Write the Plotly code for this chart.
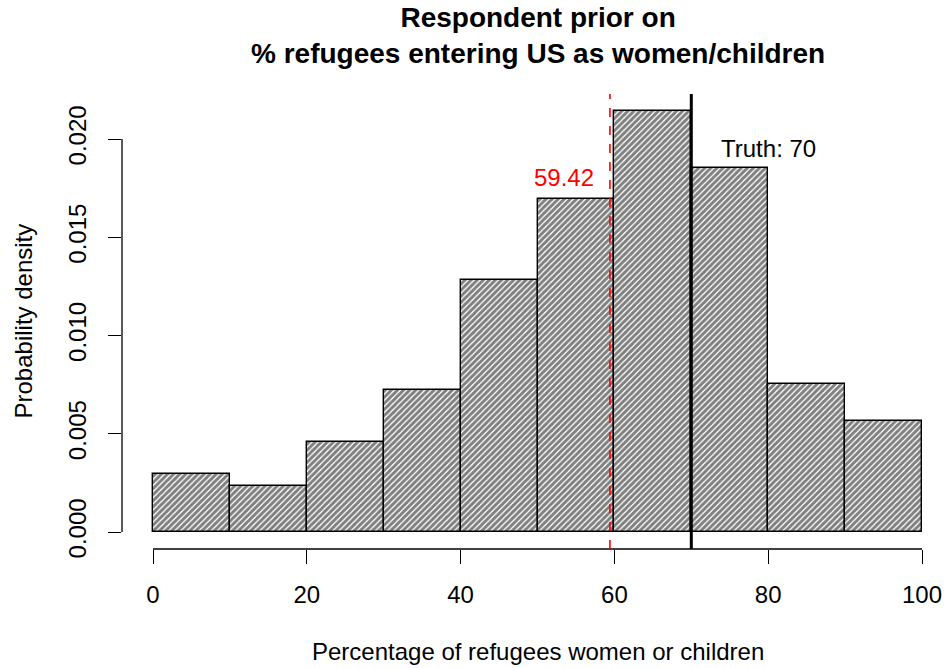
import plotly.graph_objects as go

# Histogram of respondents' priors (density per 10-point bin)
bin_left = [0, 10, 20, 30, 40, 50, 60, 70, 80, 90]
bin_width = 10
density = [0.00295, 0.00234, 0.00458, 0.00723, 0.01282,
           0.01695, 0.02142, 0.01852, 0.00753, 0.00565]

prior_mean = 59.42
truth = 70

x_ticks = [0, 20, 40, 60, 80, 100]
y_ticks = [0.000, 0.005, 0.010, 0.015, 0.020]
y_tick_text = ["0.000", "0.005", "0.010", "0.015", "0.020"]

FONT = "Liberation Sans, Arial, Helvetica, sans-serif"
FS = 24

mids = [b + bin_width / 2 for b in bin_left]

fig = go.Figure()
fig.add_trace(go.Bar(
    x=mids, y=density, width=[bin_width] * len(mids),
    marker=dict(
        color="white",
        line=dict(color="black", width=1.4),
        pattern=dict(shape="/", fgcolor="black", bgcolor="white",
                     size=4.3, solidity=0.68),
    ),
    hoverinfo="skip",
    showlegend=False,
))

shapes = [
    # detached axis lines, R style
    dict(type="line", xref="x", yref="paper", x0=min(x_ticks), x1=max(x_ticks),
         y0=0, y1=0, line=dict(color="black", width=1.3)),
    dict(type="line", xref="paper", yref="y", x0=0, x1=0,
         y0=min(y_ticks), y1=max(y_ticks), line=dict(color="black", width=1.3)),
    # mean of priors
    dict(type="line", xref="x", yref="paper", x0=prior_mean, x1=prior_mean,
         y0=0, y1=1, line=dict(color="red", width=1.6, dash="dash")),
    # true value
    dict(type="line", xref="x", yref="paper", x0=truth, x1=truth,
         y0=0, y1=1, line=dict(color="black", width=3)),
]

annotations = [
    dict(x=prior_mean, y=0.01802, xref="x", yref="y", text=f"{prior_mean:.2f}",
         xanchor="right", yanchor="middle", xshift=-14, showarrow=False,
         font=dict(family=FONT, size=FS, color="red")),
    dict(x=80, y=0.01954, xref="x", yref="y", text=f"Truth: {truth}",
         xanchor="center", yanchor="middle", showarrow=False,
         font=dict(family=FONT, size=FS, color="black")),
    # title
    dict(x=50, y=(549 - 35) / 455, xref="x", yref="paper",
         text="<b>Respondent prior on<br>% refugees entering US as women/children</b>",
         xanchor="center", yanchor="middle", showarrow=False, align="center",
         font=dict(family=FONT, size=28, color="black")),
    # axis titles
    dict(x=50, y=(549 - 651) / 455, xref="x", yref="paper",
         text="Percentage of refugees women or children",
         xanchor="center", yanchor="middle", showarrow=False,
         font=dict(family=FONT, size=FS, color="black")),
    dict(x=(23 - 122) / 823, y=0.5, xref="paper", yref="paper",
         text="Probability density", textangle=-90,
         xanchor="center", yanchor="middle", showarrow=False,
         font=dict(family=FONT, size=FS, color="black")),
]

px_per_unit = 7.69
fig.update_layout(
    width=945, height=668,
    margin=dict(l=122, r=0, t=94, b=119),
    paper_bgcolor="white", plot_bgcolor="white",
    bargap=0,
    shapes=shapes,
    annotations=annotations,
    font=dict(family=FONT, size=FS, color="black"),
    xaxis=dict(
        range=[(122 - 153) / px_per_unit, (945 - 153) / px_per_unit],
        tickmode="array", tickvals=x_ticks,
        ticks="outside", ticklen=14, tickwidth=1.3, tickcolor="black",
        ticklabelstandoff=10,
        showgrid=False, zeroline=False, showline=False,
        tickfont=dict(family=FONT, size=FS, color="black"),
    ),
    yaxis=dict(
        range=[-(549 - 532) / 19650, (532 - 94) / 19650],
        tickmode="array", tickvals=y_ticks, ticktext=y_tick_text,
        tickangle=-90,
        ticks="outside", ticklen=13, tickwidth=1.3, tickcolor="black",
        ticklabelstandoff=12,
        showgrid=False, zeroline=False, showline=False,
        tickfont=dict(family=FONT, size=FS, color="black"),
    ),
)

fig.write_html("out.html")
